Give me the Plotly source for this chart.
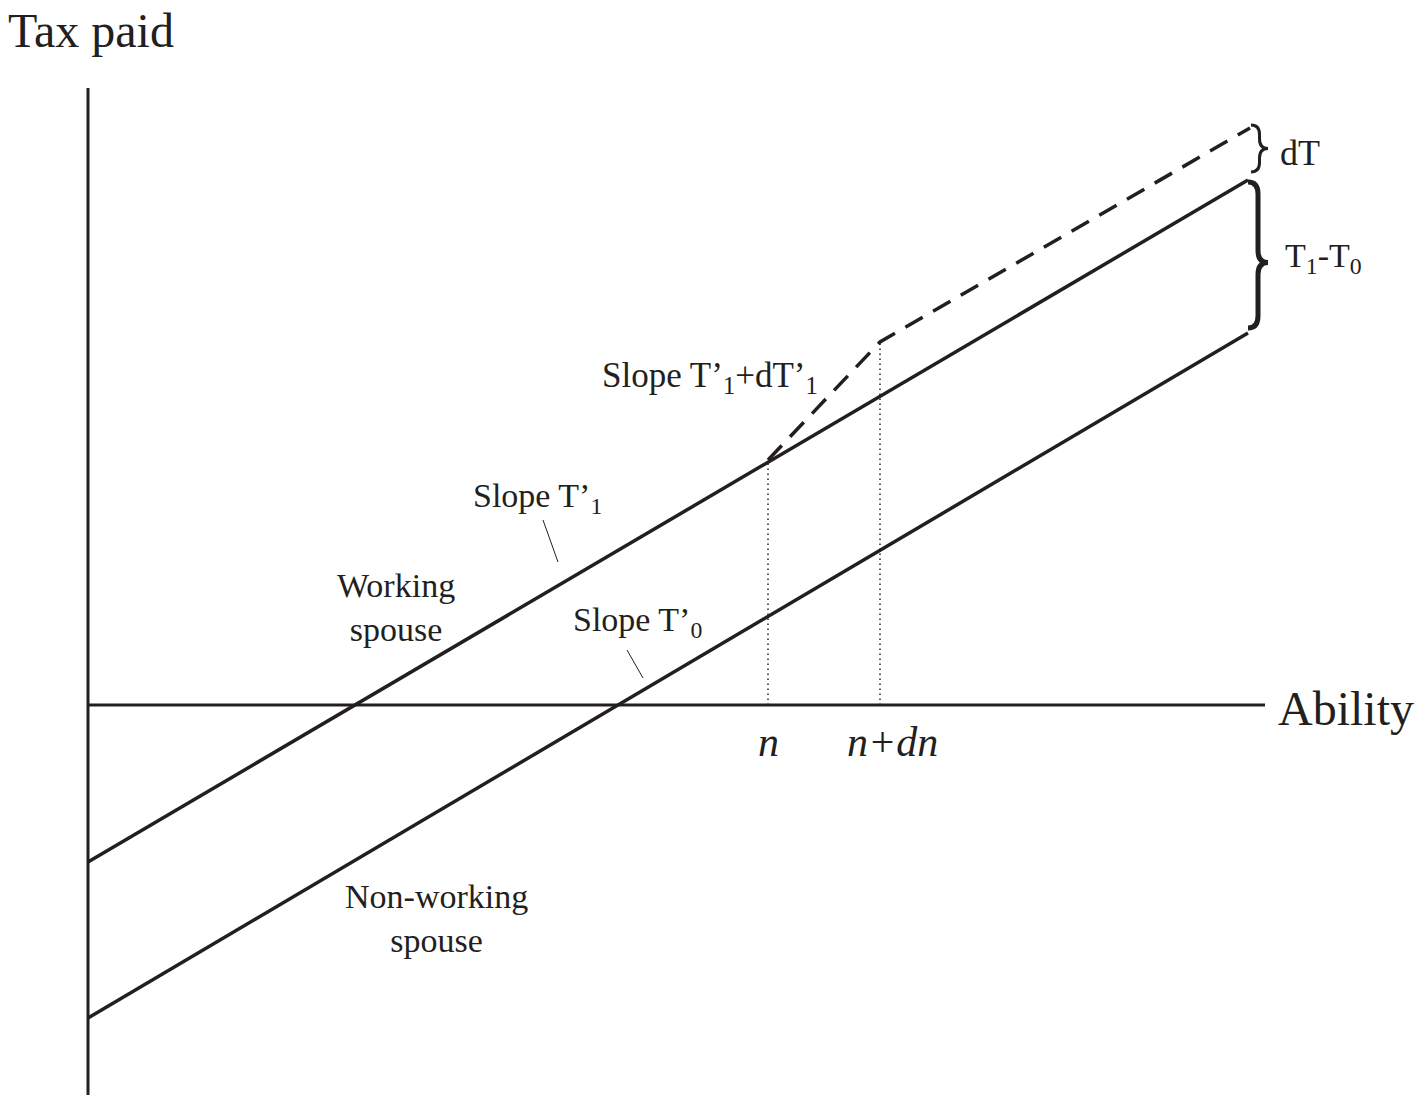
import plotly.graph_objects as go

# ---- diagram data (ability on x, tax paid on y; origin at axes crossing) ----
ability_ends = [0, 1160]
working_tax = [-157, 525]
nonworking_tax = [-313, 372]

n_val = 680
n_dn_val = 792
dashed_ability = [680, 792, 1162]
dashed_tax = [245, 363, 577]

yaxis_extent = [-390, 617]
xaxis_extent = [0, 1177]

leader1 = {"x": [455, 470], "y": [185, 143]}
leader2 = {"x": [539, 555], "y": [55, 27]}

FONT = "Liberation Serif, Times New Roman, serif"
BLACK = "#231f20"

fig = go.Figure()

# axes
fig.add_trace(go.Scatter(x=[0, 0], y=yaxis_extent, mode="lines",
                         line=dict(color=BLACK, width=3), hoverinfo="skip"))
fig.add_trace(go.Scatter(x=xaxis_extent, y=[0, 0], mode="lines",
                         line=dict(color=BLACK, width=3), hoverinfo="skip"))

# tax schedules
fig.add_trace(go.Scatter(x=ability_ends, y=working_tax, mode="lines",
                         line=dict(color=BLACK, width=3.5), hoverinfo="skip"))
fig.add_trace(go.Scatter(x=ability_ends, y=nonworking_tax, mode="lines",
                         line=dict(color=BLACK, width=3.5), hoverinfo="skip"))
fig.add_trace(go.Scatter(x=dashed_ability, y=dashed_tax, mode="lines",
                         line=dict(color=BLACK, width=3.5, dash="20px,12px"),
                         hoverinfo="skip"))

# dotted verticals
for xv, yv in [(n_val, dashed_tax[0]), (n_dn_val, dashed_tax[1])]:
    fig.add_trace(go.Scatter(x=[xv, xv], y=[0, yv], mode="lines",
                             line=dict(color=BLACK, width=1.5, dash="1.5px,3.5px"),
                             hoverinfo="skip"))

# leader lines
for ld in (leader1, leader2):
    fig.add_trace(go.Scatter(x=ld["x"], y=ld["y"], mode="lines",
                             line=dict(color=BLACK, width=1), hoverinfo="skip"))


def brace(x0, x1, ytop, ybot, ymid=None):
    if ymid is None:
        ymid = (ytop + ybot) / 2
    xm = (x0 + x1) / 2
    r = min((x1 - x0) * 0.6, (ytop - ybot) / 5)
    return (f"M {x0},{ytop} Q {xm},{ytop} {xm},{ytop - r} "
            f"L {xm},{ymid + r} Q {xm},{ymid} {x1},{ymid} "
            f"Q {xm},{ymid} {xm},{ymid - r} "
            f"L {xm},{ybot + r} Q {xm},{ybot} {x0},{ybot}")


# braces at the right end
fig.add_shape(type="path", xref="x", yref="y",
              path=brace(1163, 1180, dashed_tax[2] + 3, working_tax[1] + 8),
              line=dict(color=BLACK, width=3))
fig.add_shape(type="path", xref="x", yref="y",
              path=brace(1160, 1180, working_tax[1] - 2, nonworking_tax[1] + 5,
                         ymid=(working_tax[1] + nonworking_tax[1]) / 2 - 6),
              line=dict(color=BLACK, width=5))


def ann(x, y, text, size, xanchor="left", italic=False):
    fig.add_annotation(x=x, y=y, text=text, showarrow=False, xanchor=xanchor,
                       yanchor="middle", align="center",
                       font=dict(family=FONT, size=size, color=BLACK,
                                 style="italic" if italic else "normal"))


ann(-82, 675, "Tax paid", 48)
ann(1188, -3, "Ability", 48)
ann(1190, 552, "dT", 36)
ann(1195, 447, "T<sub>1</sub>-T<sub>0</sub>", 34)
ann(512, 328, "Slope T’<sub>1</sub>+dT’<sub>1</sub>", 35)
ann(383, 207, "Slope T’<sub>1</sub>", 34)
ann(308, 98, "Working<br>spouse", 34, xanchor="center")
ann(483, 83, "Slope T’<sub>0</sub>", 34)
ann(348, -213, "Non-working<br>spouse", 34, xanchor="center")
ann(n_val, -37, "n", 42, xanchor="center", italic=True)
ann(n_dn_val + 12, -37, "n+dn", 42, xanchor="center", italic=True)

fig.update_layout(
    width=1421, height=1095,
    margin=dict(l=0, r=0, t=0, b=0),
    paper_bgcolor="white", plot_bgcolor="white",
    showlegend=False,
    xaxis=dict(range=[-88, 1333], visible=False, fixedrange=True),
    yaxis=dict(range=[-390, 705], visible=False, fixedrange=True),
)

fig.write_html("out.html", config={"displayModeBar": False},
               post_script="document.body.style.margin='0';")
